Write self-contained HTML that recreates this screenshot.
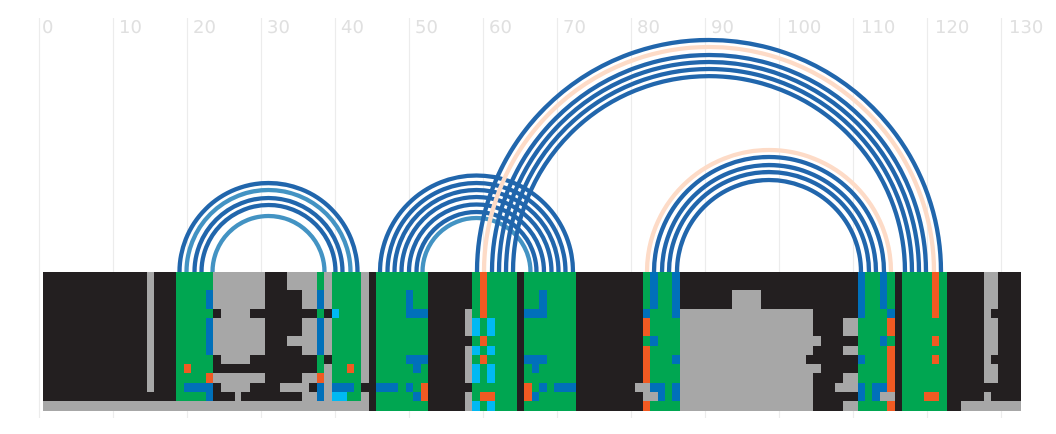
<!DOCTYPE html>
<html><head><meta charset="utf-8"><style>
html,body{margin:0;padding:0;background:#fff;width:1056px;height:434px;overflow:hidden}
svg{display:block}
text{font-family:"DejaVu Sans","Liberation Sans",sans-serif;font-size:18px;fill:#e0e0e0}
</style></head><body>
<svg width="1056" height="434" viewBox="0 0 1056 434" xmlns="http://www.w3.org/2000/svg">
<g stroke="#ececec" stroke-width="1.2">
<line x1="39.5" y1="18" x2="39.5" y2="418"/><line x1="113.5" y1="18" x2="113.5" y2="418"/><line x1="187.5" y1="18" x2="187.5" y2="418"/><line x1="261.5" y1="18" x2="261.5" y2="418"/><line x1="335.5" y1="18" x2="335.5" y2="418"/><line x1="409.5" y1="18" x2="409.5" y2="418"/><line x1="483.5" y1="18" x2="483.5" y2="418"/><line x1="557.5" y1="18" x2="557.5" y2="418"/><line x1="631.5" y1="18" x2="631.5" y2="418"/><line x1="705.5" y1="18" x2="705.5" y2="418"/><line x1="779.5" y1="18" x2="779.5" y2="418"/><line x1="853.5" y1="18" x2="853.5" y2="418"/><line x1="927.5" y1="18" x2="927.5" y2="418"/><line x1="1001.5" y1="18" x2="1001.5" y2="418"/>
</g>
<g>
<text x="42" y="33">0</text><text x="119" y="33">10</text><text x="193" y="33">20</text><text x="267" y="33">30</text><text x="341" y="33">40</text><text x="415" y="33">50</text><text x="489" y="33">60</text><text x="563" y="33">70</text><text x="637" y="33">80</text><text x="711" y="33">90</text><text x="787" y="33">100</text><text x="861" y="33">110</text><text x="935" y="33">120</text><text x="1009" y="33">130</text>
</g>
<g fill="none" stroke-width="4.3">
<path d="M179.5 272 A89 89 0 0 1 357.5 272" stroke="#2166ac"/>
<path d="M186.5 272 A82 82 0 0 1 350.5 272" stroke="#4393c3"/>
<path d="M194.5 272 A74 74 0 0 1 342.5 272" stroke="#2166ac"/>
<path d="M201.5 272 A67 67 0 0 1 335.5 272" stroke="#2166ac"/>
<path d="M212.5 272 A56 56 0 0 1 324.5 272" stroke="#4393c3"/>
<path d="M380 272 A96.5 96.5 0 0 1 573 272" stroke="#2166ac"/>
<path d="M387.5 272 A89 89 0 0 1 565.5 272" stroke="#2166ac"/>
<path d="M394.5 272 A82 82 0 0 1 558.5 272" stroke="#2166ac"/>
<path d="M401.5 272 A75 75 0 0 1 551.5 272" stroke="#2166ac"/>
<path d="M409 272 A67.5 67.5 0 0 1 544 272" stroke="#2166ac"/>
<path d="M416.5 272 A60 60 0 0 1 536.5 272" stroke="#2166ac"/>
<path d="M422.5 272 A54 54 0 0 1 530.5 272" stroke="#4393c3"/>
<path d="M484 272 A225 225 0 0 1 934 272" stroke="#fddbc7"/>
<path d="M477 272 A232 232 0 0 1 941 272" stroke="#2166ac"/>
<path d="M492 272 A217 217 0 0 1 926 272" stroke="#2166ac"/>
<path d="M499 272 A210 210 0 0 1 919 272" stroke="#2166ac"/>
<path d="M506 272 A203 203 0 0 1 912 272" stroke="#2166ac"/>
<path d="M513 272 A196 196 0 0 1 905 272" stroke="#2166ac"/>
<path d="M647 272 A122 122 0 0 1 891 272" stroke="#fddbc7"/>
<path d="M654 272 A115 115 0 0 1 884 272" stroke="#2166ac"/>
<path d="M662 272 A107 107 0 0 1 876 272" stroke="#2166ac"/>
<path d="M669 272 A100 100 0 0 1 869 272" stroke="#2166ac"/>
<path d="M677 272 A92 92 0 0 1 861 272" stroke="#2166ac"/>
</g>
<g shape-rendering="crispEdges">
<rect x="43" y="272" width="978" height="139" fill="#231f20"/>
<g fill="#a7a7a7">
<rect x="147" y="272" width="7" height="120"/><rect x="43" y="401" width="326" height="10"/>
<rect x="213" y="272" width="52" height="129"/>
<rect x="287" y="272" width="30" height="18"/><rect x="302" y="290" width="15" height="19"/><rect x="302" y="318" width="15" height="18"/><rect x="287" y="336" width="30" height="10"/><rect x="302" y="346" width="15" height="9"/><rect x="302" y="373" width="15" height="10"/><rect x="280" y="383" width="29" height="9"/><rect x="302" y="392" width="15" height="9"/>
<rect x="324" y="272" width="8" height="129"/>
<rect x="361" y="272" width="8" height="111"/><rect x="361" y="392" width="8" height="9"/>
<rect x="465" y="309" width="7" height="27"/><rect x="465" y="346" width="7" height="37"/><rect x="465" y="392" width="7" height="19"/>
<rect x="732" y="290" width="29" height="19"/><rect x="680" y="309" width="133" height="102"/><rect x="813" y="336" width="8" height="10"/><rect x="813" y="364" width="8" height="9"/>
<rect x="843" y="318" width="15" height="18"/><rect x="843" y="346" width="15" height="9"/><rect x="843" y="373" width="15" height="10"/><rect x="843" y="401" width="15" height="10"/><rect x="835" y="383" width="23" height="9"/>
<rect x="961" y="401" width="60" height="10"/>
<rect x="984" y="272" width="14" height="37"/><rect x="984" y="309" width="7" height="9"/><rect x="984" y="318" width="14" height="37"/><rect x="984" y="355" width="7" height="9"/><rect x="984" y="364" width="14" height="19"/><rect x="984" y="392" width="7" height="9"/>
</g>
<g fill="#231f20">
<rect x="213" y="309" width="8" height="9"/><rect x="250" y="309" width="15" height="9"/><rect x="213" y="355" width="8" height="9"/><rect x="250" y="355" width="15" height="9"/><rect x="213" y="364" width="52" height="9"/><rect x="213" y="383" width="8" height="9"/><rect x="250" y="383" width="15" height="9"/><rect x="213" y="392" width="22" height="9"/><rect x="241" y="392" width="24" height="9"/>
<rect x="324" y="309" width="8" height="9"/><rect x="324" y="355" width="8" height="9"/><rect x="806" y="355" width="7" height="9"/>
</g>
<g fill="#00a651">
<rect x="176" y="272" width="37" height="129"/>
<rect x="317" y="272" width="7" height="129"/>
<rect x="332" y="272" width="29" height="129"/>
<rect x="376" y="272" width="52" height="139"/>
<rect x="472" y="272" width="45" height="139"/>
<rect x="524" y="272" width="52" height="139"/>
<rect x="643" y="272" width="37" height="139"/>
<rect x="858" y="272" width="37" height="139"/>
<rect x="902" y="272" width="45" height="139"/>
</g>
<g fill="#0070ba">
<rect x="206" y="290" width="7" height="19"/><rect x="206" y="318" width="7" height="37"/><rect x="206" y="392" width="7" height="9"/><rect x="184" y="383" width="29" height="9"/>
<rect x="317" y="290" width="7" height="19"/><rect x="317" y="318" width="7" height="37"/><rect x="317" y="383" width="7" height="18"/>
<rect x="332" y="383" width="22" height="9"/>
<rect x="406" y="290" width="7" height="19"/><rect x="406" y="309" width="22" height="9"/><rect x="406" y="355" width="22" height="9"/><rect x="413" y="364" width="8" height="9"/><rect x="376" y="383" width="22" height="9"/><rect x="406" y="383" width="7" height="9"/><rect x="413" y="392" width="8" height="9"/>
<rect x="539" y="290" width="8" height="19"/><rect x="524" y="309" width="23" height="9"/><rect x="524" y="355" width="23" height="9"/><rect x="532" y="364" width="7" height="9"/><rect x="539" y="383" width="8" height="9"/><rect x="554" y="383" width="22" height="9"/><rect x="532" y="392" width="7" height="9"/>
<rect x="650" y="272" width="8" height="37"/><rect x="672" y="272" width="8" height="46"/><rect x="643" y="309" width="7" height="9"/><rect x="650" y="336" width="8" height="10"/><rect x="672" y="355" width="8" height="9"/><rect x="650" y="383" width="15" height="9"/><rect x="672" y="383" width="8" height="18"/><rect x="658" y="392" width="7" height="9"/>
<rect x="858" y="272" width="7" height="46"/><rect x="858" y="355" width="7" height="9"/><rect x="858" y="383" width="7" height="18"/><rect x="880" y="272" width="7" height="37"/><rect x="880" y="336" width="7" height="10"/><rect x="872" y="383" width="15" height="9"/><rect x="872" y="392" width="8" height="9"/><rect x="887" y="309" width="8" height="9"/>
</g>
<g fill="#00b9f2">
<rect x="332" y="309" width="7" height="9"/><rect x="332" y="392" width="15" height="9"/>
<rect x="472" y="318" width="8" height="18"/><rect x="487" y="318" width="8" height="18"/><rect x="472" y="346" width="8" height="9"/><rect x="487" y="346" width="8" height="9"/><rect x="472" y="364" width="8" height="19"/><rect x="487" y="364" width="8" height="19"/><rect x="472" y="401" width="8" height="10"/><rect x="487" y="401" width="8" height="10"/>
</g>
<g fill="#f15a22">
<rect x="184" y="364" width="7" height="9"/><rect x="206" y="373" width="7" height="10"/><rect x="317" y="373" width="7" height="10"/><rect x="347" y="364" width="7" height="9"/>
<rect x="421" y="383" width="7" height="18"/>
<rect x="480" y="272" width="7" height="46"/><rect x="480" y="336" width="7" height="10"/><rect x="480" y="355" width="7" height="9"/><rect x="480" y="392" width="15" height="9"/>
<rect x="524" y="383" width="8" height="18"/>
<rect x="643" y="318" width="7" height="18"/><rect x="643" y="346" width="7" height="37"/><rect x="643" y="401" width="7" height="10"/>
<rect x="887" y="318" width="8" height="18"/><rect x="887" y="346" width="8" height="46"/><rect x="887" y="401" width="8" height="10"/>
<rect x="932" y="272" width="7" height="46"/><rect x="932" y="336" width="7" height="10"/><rect x="932" y="355" width="7" height="9"/><rect x="924" y="392" width="15" height="9"/>
</g>
<g fill="#a7a7a7">
<rect x="635" y="383" width="15" height="9"/><rect x="643" y="392" width="15" height="9"/><rect x="880" y="392" width="15" height="9"/>
</g>
</g>
</svg>
</body></html>
